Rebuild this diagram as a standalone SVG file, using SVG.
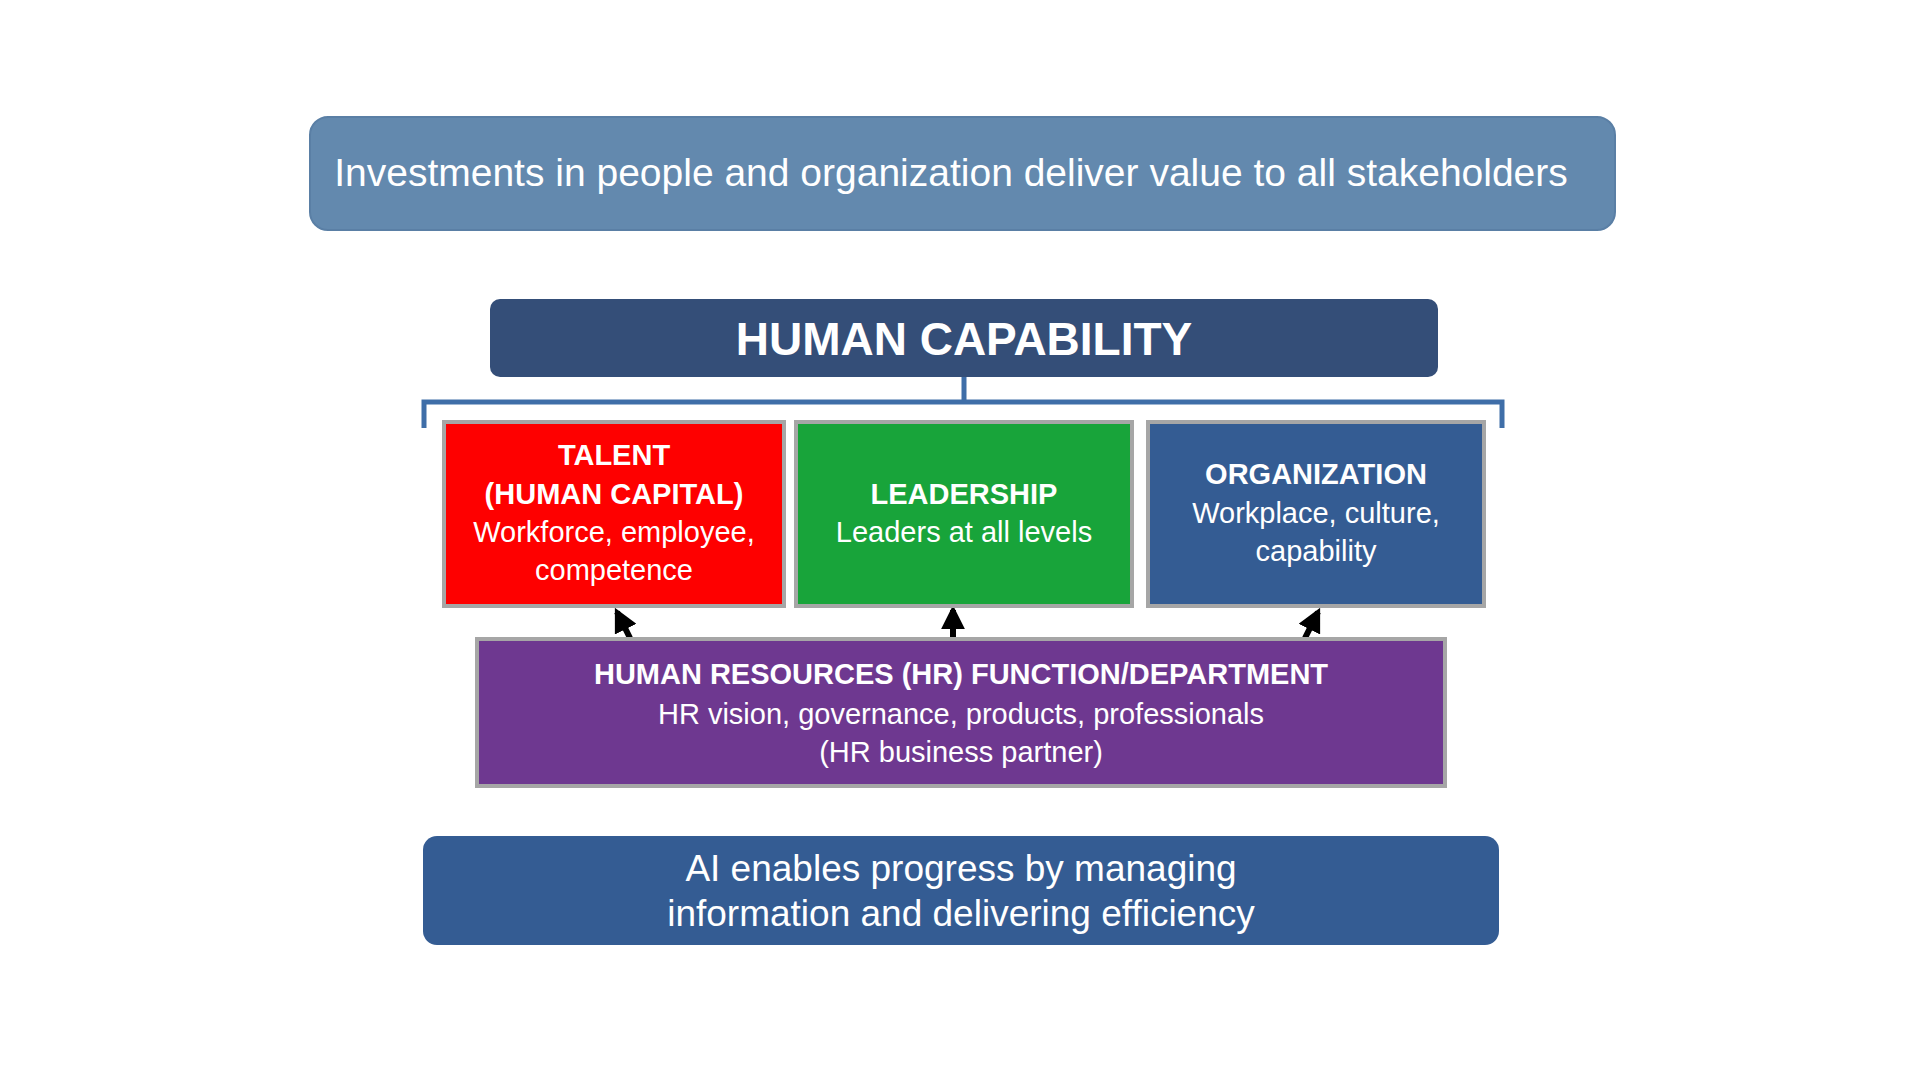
<svg xmlns="http://www.w3.org/2000/svg" width="1920" height="1080" viewBox="0 0 1920 1080">
<defs>
<style>
text{font-family:"Liberation Sans",Arial,sans-serif;fill:#fff;text-anchor:middle}
.b{font-weight:bold}
.box{stroke:#a6a6a6;stroke-width:4}
</style>
<marker id="ah" viewBox="0 0 10 10" refX="8" refY="5" markerWidth="4" markerHeight="4" orient="auto"><path d="M0,0L10,5L0,10z" fill="#000"/></marker>
</defs>
<rect width="1920" height="1080" fill="#fff"/>
<g id="top"><rect x="310" y="117" width="1305" height="113" rx="18" fill="#6389ae" stroke="#5a7fa5" stroke-width="2"/>
<text x="951" y="186" font-size="39">Investments in people and organization deliver value to all stakeholders</text></g>
<g id="hc"><rect x="490" y="299" width="948" height="78" rx="10" fill="#344e78"/>
<text x="964" y="355" font-size="46" class="b">HUMAN CAPABILITY</text></g>
<g id="connectors" fill="none">
<path d="M424,428V402H964V377M964,402H1502V428" stroke="#3f6ea8" stroke-width="5"/>
<line x1="630" y1="638" x2="617" y2="612" stroke="#000" stroke-width="6" marker-end="url(#ah)"/>
<line x1="953" y1="638" x2="953" y2="610" stroke="#000" stroke-width="6" marker-end="url(#ah)"/>
<line x1="1305" y1="638" x2="1318" y2="612" stroke="#000" stroke-width="6" marker-end="url(#ah)"/>
</g>
<g id="talent"><rect class="box" x="444" y="422" width="340" height="184" fill="#fe0000"/>
<text x="614" y="465" font-size="29" class="b">TALENT</text>
<text x="614" y="504" font-size="29" class="b">(HUMAN CAPITAL)</text>
<text x="614" y="542" font-size="29">Workforce, employee,</text>
<text x="614" y="580" font-size="29">competence</text></g>
<g id="leadership"><rect class="box" x="796" y="422" width="336" height="184" fill="#18a43a"/>
<text x="964" y="504" font-size="29" class="b">LEADERSHIP</text>
<text x="964" y="542" font-size="29">Leaders at all levels</text></g>
<g id="organization"><rect class="box" x="1148" y="422" width="336" height="184" fill="#345c93"/>
<text x="1316" y="484" font-size="29" class="b">ORGANIZATION</text>
<text x="1316" y="523" font-size="29">Workplace, culture,</text>
<text x="1316" y="561" font-size="29">capability</text></g>
<g id="hr"><rect class="box" x="477" y="639" width="968" height="147" fill="#6e3890"/>
<text x="961" y="684" font-size="29" class="b">HUMAN RESOURCES (HR) FUNCTION/DEPARTMENT</text>
<text x="961" y="724" font-size="29">HR vision, governance, products, professionals</text>
<text x="961" y="762" font-size="29">(HR business partner)</text></g>
<g id="ai"><rect x="423" y="836" width="1076" height="109" rx="14" fill="#345c93"/>
<text x="961" y="881" font-size="37">AI enables progress by managing</text>
<text x="961" y="926" font-size="37">information and delivering efficiency</text></g>
</svg>
